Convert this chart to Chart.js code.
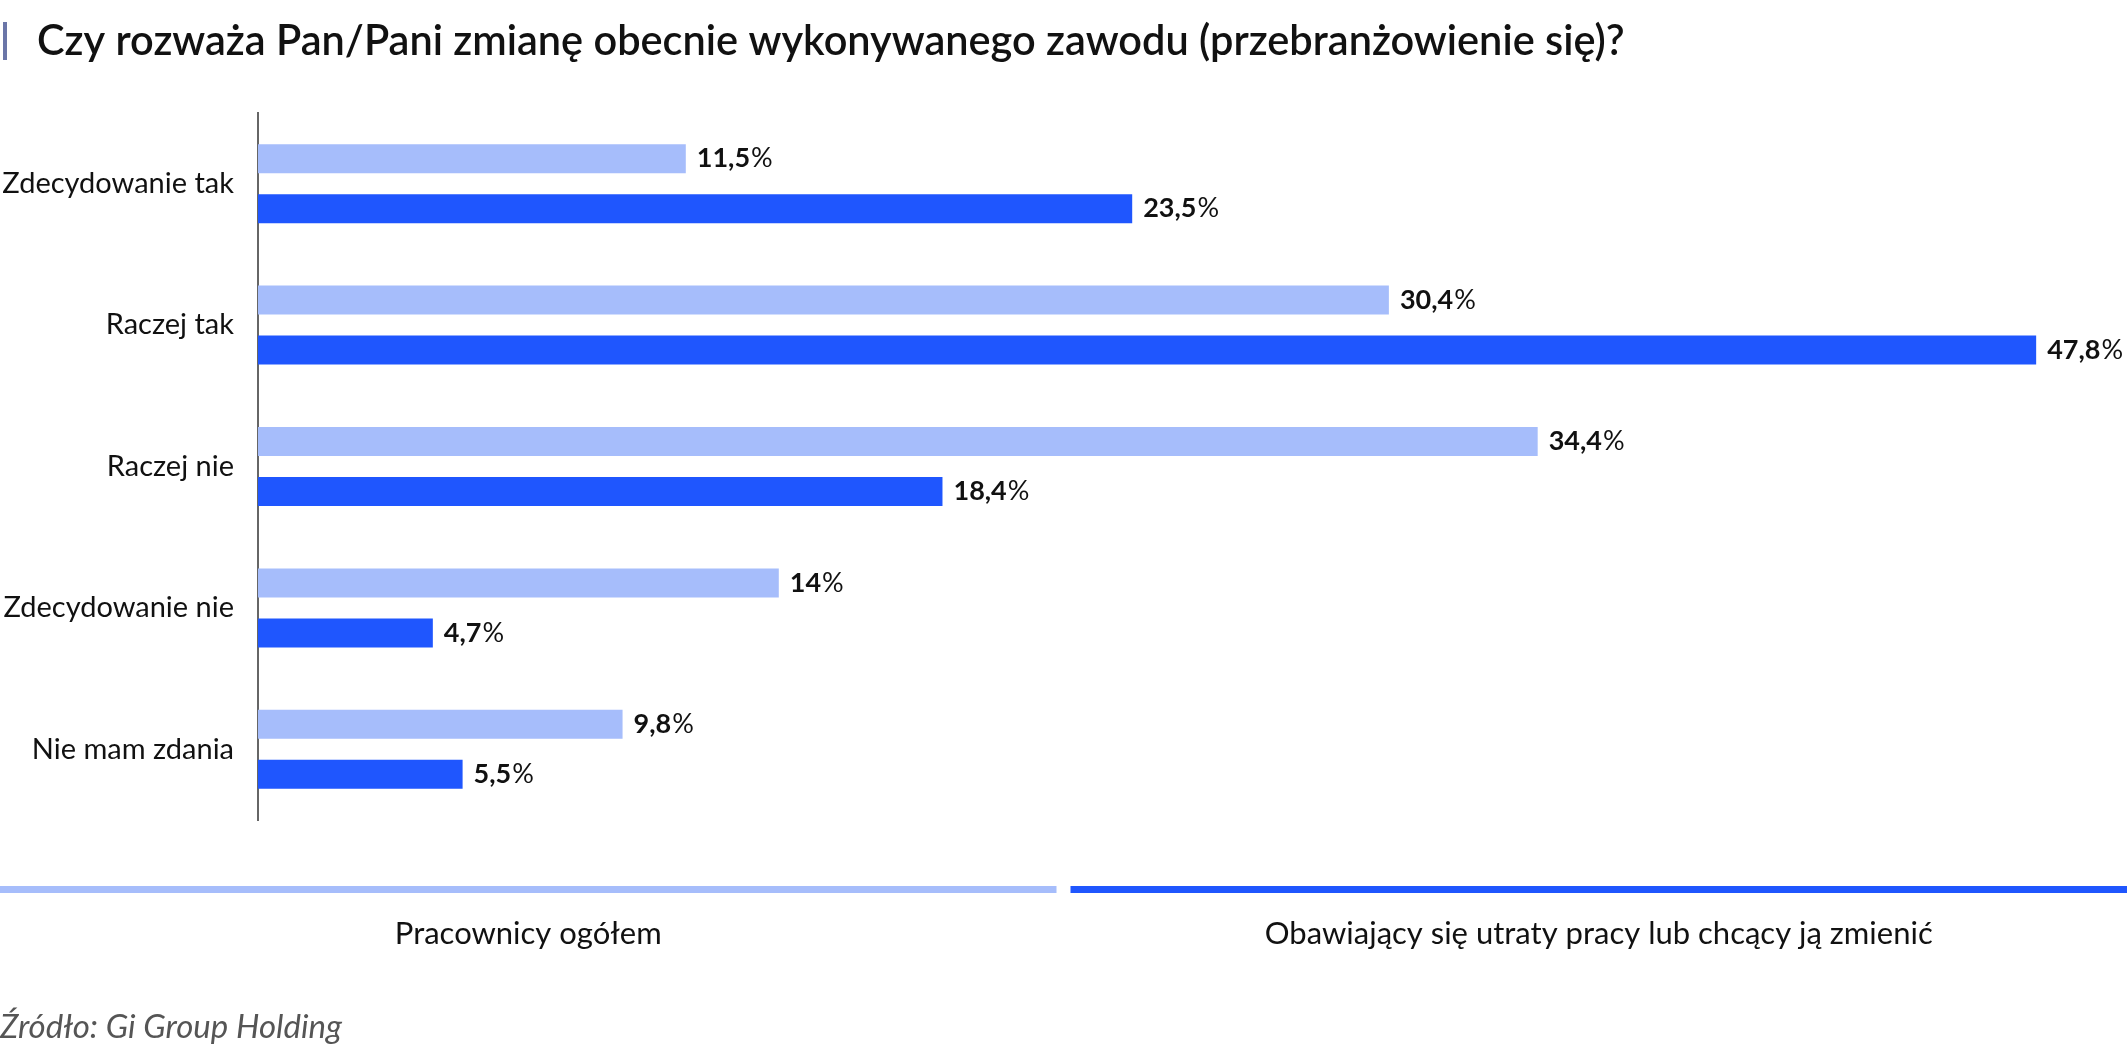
<!DOCTYPE html>
<html>
<head>
<meta charset="utf-8">
<script src="https://cdn.jsdelivr.net/npm/chart.js@4.4.0/dist/chart.umd.min.js"></script>
<style>
  html, body { margin: 0; padding: 0; background: #fff; }
  canvas { display: block; }
</style>
</head>
<body>
<canvas id="chartCanvas" width="2127" height="1052"></canvas>
<script>
const chartTitle = "Czy rozważa Pan/Pani zmianę obecnie wykonywanego zawodu (przebranżowienie się)?";
const sourceText = "Źródło: Gi Group Holding";

const categories = ["Zdecydowanie tak", "Raczej tak", "Raczej nie", "Zdecydowanie nie", "Nie mam zdania"];
const seriesNames = ["Pracownicy ogółem", "Obawiający się utraty pracy lub chcący ją zmienić"];
const allWorkers = [11.5, 30.4, 34.4, 14, 9.8];
const worriedWorkers = [23.5, 47.8, 18.4, 4.7, 5.5];

const lightBlue = "#a6bdfb";
const darkBlue = "#1f56fe";

// labels, title, legend and source drawn on the same canvas
const extrasPlugin = {
  id: "extras",
  afterDraw(chart) {
    const ctx = chart.ctx;
    const area = chart.chartArea;
    const yScale = chart.scales.y;
    ctx.save();

    // title
    ctx.fillStyle = "#6b76a8";
    ctx.fillRect(3, 22, 4, 38);
    ctx.fillStyle = "#111";
    ctx.font = "600 41.5px Lato";
    ctx.textBaseline = "middle";
    ctx.textAlign = "left";
    ctx.fillText(chartTitle, 37, 42);

    // category labels
    ctx.font = "29px Lato";
    ctx.textAlign = "right";
    categories.forEach(function(cat, i) {
      ctx.fillText(cat, area.left - 24, yScale.getPixelForTick(i));
    });

    // value labels
    ctx.textAlign = "left";
    chart.data.datasets.forEach(function(ds, di) {
      const meta = chart.getDatasetMeta(di);
      meta.data.forEach(function(bar, i) {
        const num = String(ds.data[i]).replace(".", ",");
        ctx.font = "bold 27px Lato";
        ctx.fillStyle = "#111";
        const w = ctx.measureText(num).width;
        ctx.fillText(num, bar.x + 11, bar.y);
        ctx.font = "27px Lato";
        ctx.fillText("%", bar.x + 11 + w + 1, bar.y);
      });
    });

    // legend
    const legendY = 890;
    const half = chart.width / 2;
    ctx.fillStyle = lightBlue;
    ctx.fillRect(0, legendY - 4, half - 7, 7);
    ctx.fillStyle = darkBlue;
    ctx.fillRect(half + 7, legendY - 4, chart.width - half - 7, 7);
    ctx.fillStyle = "#111";
    ctx.font = "31px Lato";
    ctx.textAlign = "center";
    ctx.fillText(seriesNames[0], (half - 7) / 2, 934);
    ctx.fillText(seriesNames[1], (half + 7 + chart.width) / 2, 934);

    // source
    ctx.textAlign = "left";
    ctx.fillStyle = "#555";
    ctx.font = "italic 33px Lato";
    ctx.fillText(sourceText, 0, 1027);

    ctx.restore();
  }
};

new Chart("chartCanvas", {
  type: "bar",
  data: {
    labels: categories,
    datasets: [{
      label: seriesNames[0],
      data: allWorkers,
      backgroundColor: lightBlue,
      barPercentage: 0.58,
      categoryPercentage: 0.707
    }, {
      label: seriesNames[1],
      data: worriedWorkers,
      backgroundColor: darkBlue,
      barPercentage: 0.58,
      categoryPercentage: 0.707
    }]
  },
  options: {
    indexAxis: "y",
    responsive: false,
    animation: false,
    layout: {
      padding: { left: 250, right: 9, top: 113, bottom: 232 }
    },
    plugins: {
      legend: { display: false },
      tooltip: { enabled: false }
    },
    scales: {
      x: {
        display: false,
        min: 0,
        max: 50
      },
      y: {
        grid: { display: false },
        ticks: { display: false },
        border: { display: true, color: "#666", width: 2 }
      }
    }
  },
  plugins: [extrasPlugin]
});
</script>
</body>
</html>
